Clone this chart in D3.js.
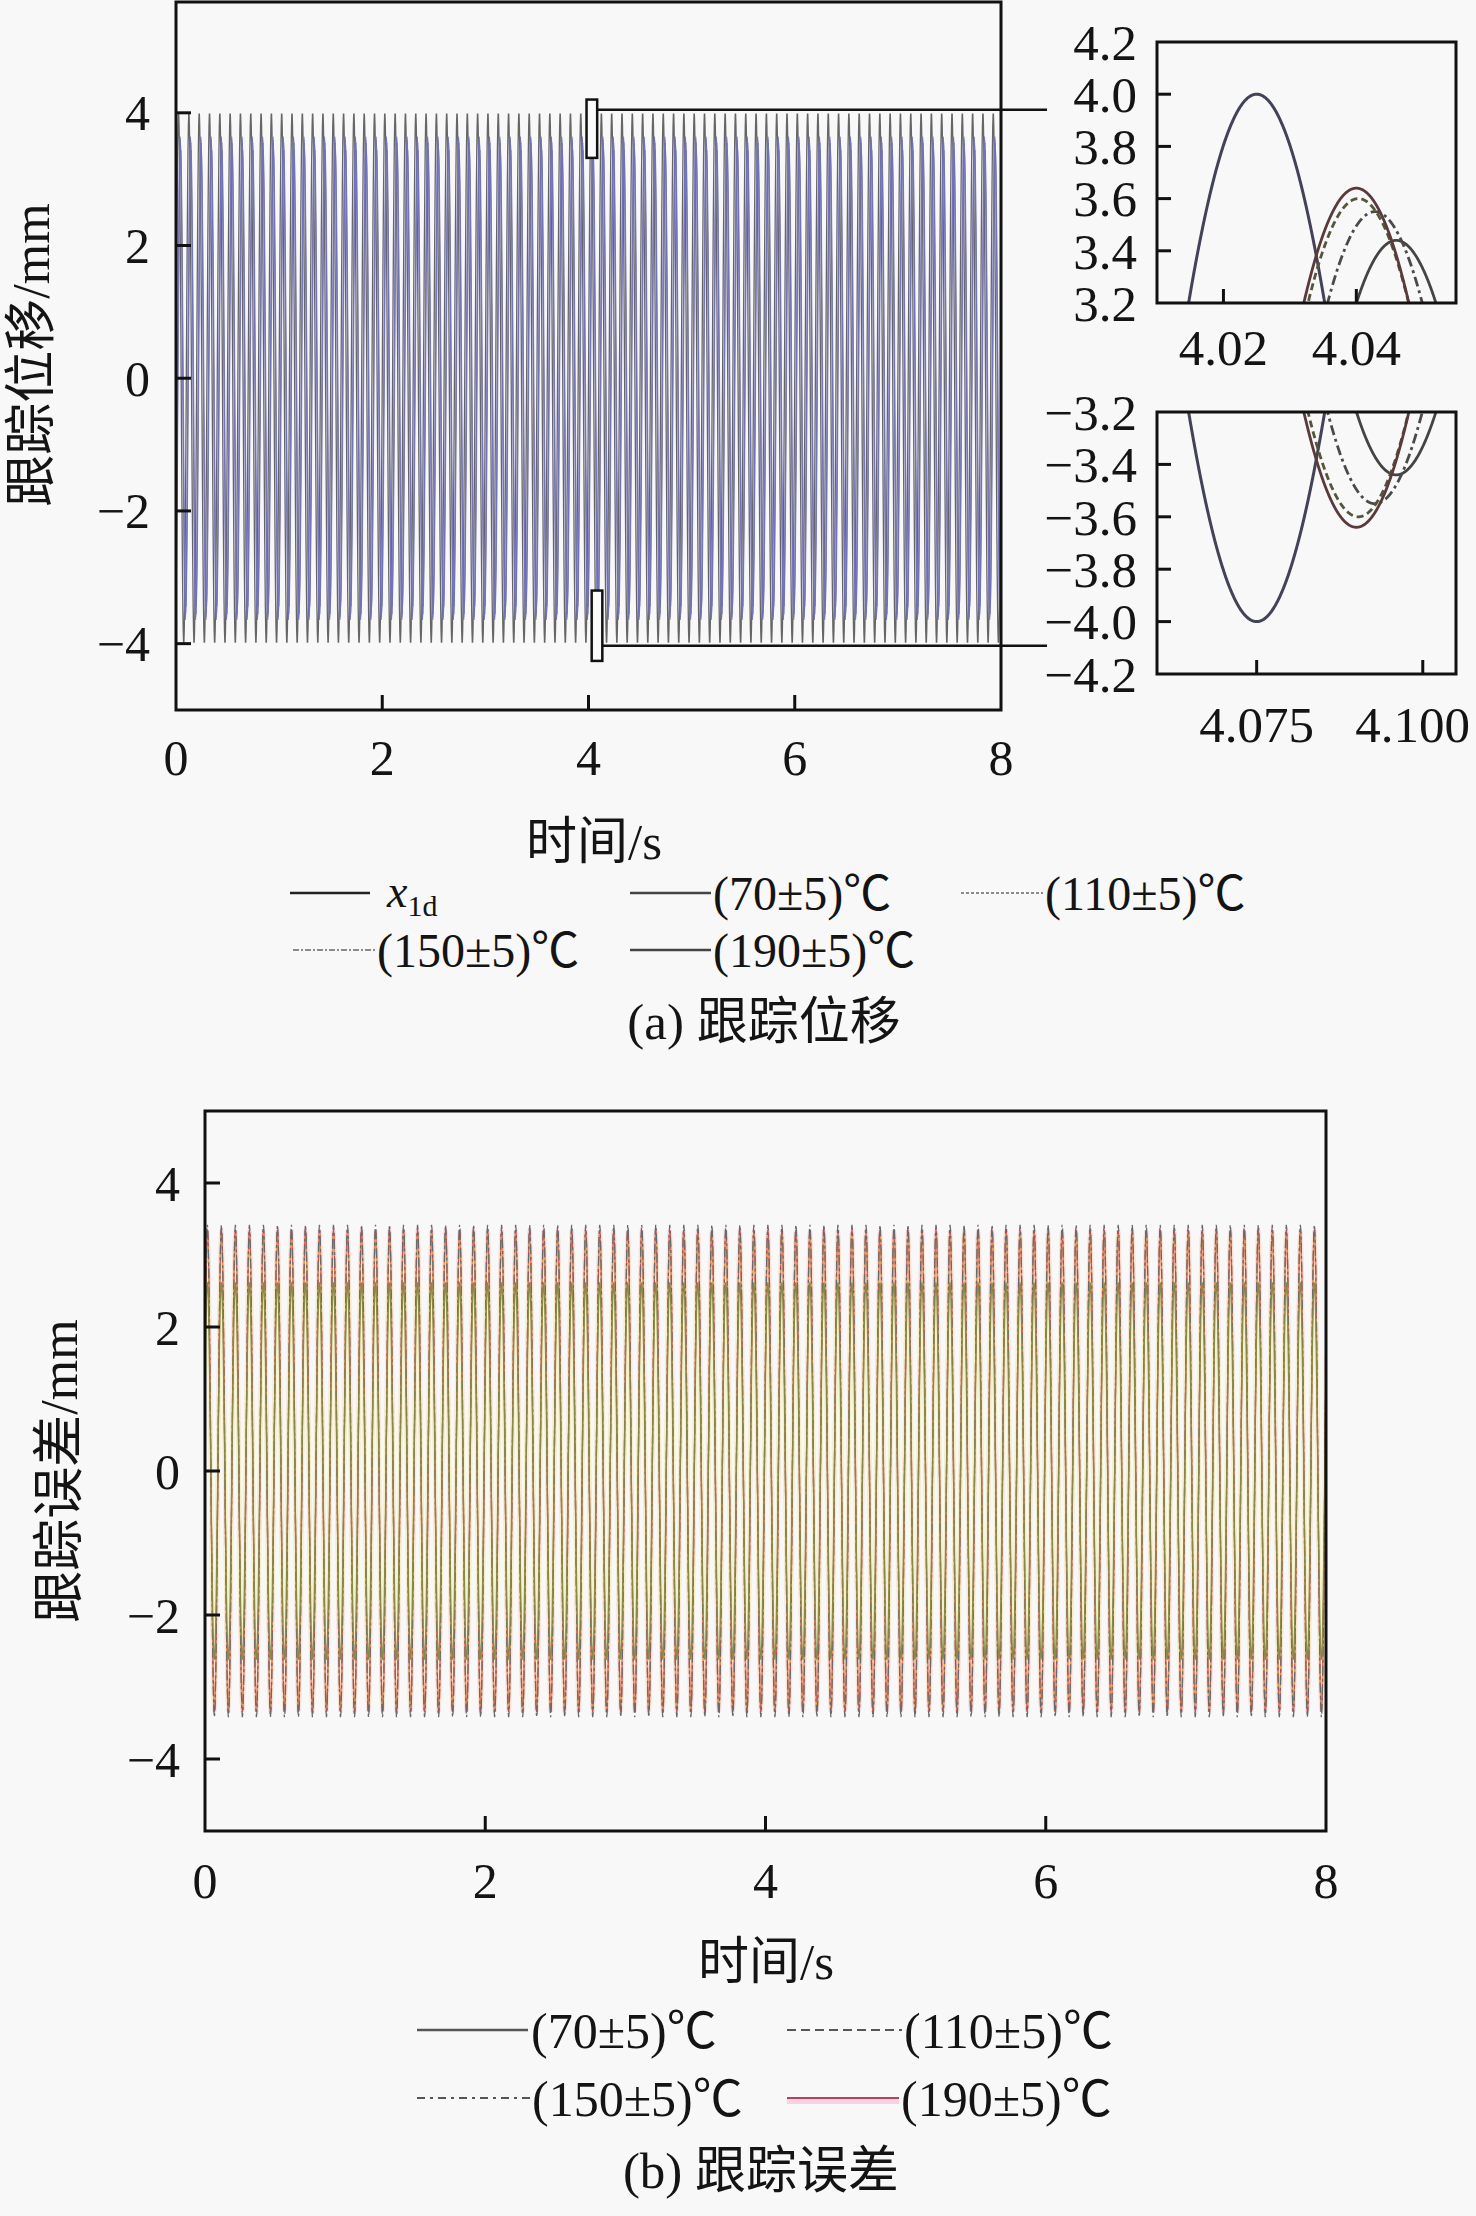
<!DOCTYPE html>
<html><head><meta charset="utf-8">
<script src="https://cdn.jsdelivr.net/npm/d3@7"></script>
<style>
html,body{margin:0;padding:0;background:#f8f8f8;}
svg{display:block;}
text{font-family:"Liberation Serif","Times New Roman","Noto Sans CJK SC",serif;fill:#141414;}
</style></head><body>
<svg id="chart" width="1476" height="2216"></svg>
<script>
// ---------------- data ----------------
const freqHz = 10;                 // reference sine frequency (Hz)
const refAmp = 4;                  // amplitude of x1d (mm)
const timeSpan = [0, 8];           // s
const seriesNames = ["(70±5)℃", "(110±5)℃", "(150±5)℃", "(190±5)℃"];
// tracking displacement: amplitude (mm) and time lag (s)
const trackAmp = [3.64, 3.60, 3.55, 3.44];
const trackLag = [0.0150, 0.0153, 0.0178, 0.0210];
// tracking error: amplitude (mm) and time lead (s)
const errAmp  = [2.62, 3.30, 3.42, 3.35];
const errLead = [0.0085, 0.0082, 0.0080, 0.0078];
// ticks
const xTicks = [0, 2, 4, 6, 8];
const yTicksA = [-4, -2, 0, 2, 4];
const yTicksB = [-4, -2, 0, 2, 4];
const inset1X = [4.010, 4.055], inset1Y = [3.2, 4.2];
const inset2X = [4.060, 4.105], inset2Y = [-4.2, -3.2];
const inset1XTicks = [4.02, 4.04];
const inset1YTicks = [3.2, 3.4, 3.6, 3.8, 4.0, 4.2];
const inset2XTicks = [4.075, 4.100];
const inset2YTicks = [-4.2, -4.0, -3.8, -3.6, -3.4, -3.2];

// ---------------- helpers ----------------
const W = 1476, H = 2216;
const svg = d3.select("#chart");
svg.append("rect").attr("width", W).attr("height", H).attr("fill", "#f8f8f8");
const defs = svg.append("defs");
const fmtMinus = s => String(s).replace("-", "\u2212");

function sine(amp, shift, t0, t1, perCycle) {
  const n = Math.ceil((t1 - t0) * freqHz * perCycle);
  return d3.range(n + 1).map(i => {
    const t = t0 + (t1 - t0) * i / n;
    return [t, amp * Math.sin(2 * Math.PI * freqHz * (t - shift))];
  });
}
function clip(id, x, y, w, h) {
  defs.append("clipPath").attr("id", id).append("rect")
    .attr("x", x).attr("y", y).attr("width", w).attr("height", h);
}
function frame(g, box) {
  g.append("rect").attr("x", box.x0).attr("y", box.y0)
    .attr("width", box.x1 - box.x0).attr("height", box.y1 - box.y0)
    .attr("fill", "none").attr("stroke", "#111").attr("stroke-width", 3);
}
function ticks(g, x, y, box, xt, yt, xfmt, yfmt, fs, xLabY, yLabX, len) {
  xt.forEach(v => {
    const px = x(v);
    if (px > box.x0 + 2 && px < box.x1 - 2)
      g.append("line").attr("x1", px).attr("x2", px).attr("y1", box.y1).attr("y2", box.y1 - len)
        .attr("stroke", "#111").attr("stroke-width", 3);
    const t = g.append("text").attr("x", px).attr("y", xLabY).attr("text-anchor", "middle")
      .attr("dy", "0.35em").attr("font-size", fs).text(xfmt(v));
    const bb = t.node().getBBox();
    if (bb.x + bb.width > W - 6) t.attr("x", px - (bb.x + bb.width - (W - 6)));
  });
  yt.forEach(v => {
    const py = y(v);
    if (py > box.y0 + 2 && py < box.y1 - 2)
      g.append("line").attr("x1", box.x0).attr("x2", box.x0 + len).attr("y1", py).attr("y2", py)
        .attr("stroke", "#111").attr("stroke-width", 3);
    g.append("text").attr("x", yLabX).attr("y", py).attr("text-anchor", "end")
      .attr("dy", "0.35em").attr("font-size", fs).text(yfmt(v));
  });
}
function legendLine(g, x1, x2, y, color, dash, w) {
  g.append("line").attr("x1", x1).attr("x2", x2).attr("y1", y).attr("y2", y)
    .attr("stroke", color).attr("stroke-width", w || 2.2)
    .attr("stroke-dasharray", dash || null);
}
function legendText(g, x, y, txt, fs) {
  g.append("text").attr("x", x).attr("y", y).attr("dy", "0.35em").attr("font-size", fs).text(txt);
}

const insetDashes = [null, "7,4", "10,4,3,4", null];
const insetColors = ["#5a3a3a", "#55553a", "#4a4a4a", "#444444"];

// ---------------- panel (a) ----------------
const A = {x0: 176, x1: 1001, y0: 2, y1: 710};
const xA = d3.scaleLinear().domain(timeSpan).range([A.x0, A.x1]);
const yA = d3.scaleLinear().domain([-5, 5.67]).range([A.y1, A.y0]);
clip("clipA", A.x0, A.y0, A.x1 - A.x0, A.y1 - A.y0);
const gA = svg.append("g");
const lineA = d3.line().x(d => xA(d[0])).y(d => yA(d[1]));
const plotA = gA.append("g").attr("clip-path", "url(#clipA)");
plotA.append("path").attr("d", lineA(sine(refAmp, 0, 0, 8, 30)))
  .attr("fill", "none").attr("stroke", "#666").attr("stroke-width", 1.3);
trackAmp.forEach((a, i) => {
  plotA.append("path").attr("d", lineA(sine(a, trackLag[i], 0, 8, 30)))
    .attr("fill", "none").attr("stroke", "#7070b6").attr("stroke-width", 0.95).attr("opacity", 0.8);
});
frame(gA, A);
ticks(gA, xA, yA, A, xTicks, yTicksA, d => d, fmtMinus, 50, 757, 150, 15);

// zoom rectangles and connectors
const rect1 = {x0: xA(inset1X[0]) - 3, x1: xA(inset1X[1]) + 3, y0: yA(inset1Y[1]), y1: yA(inset1Y[0]) - 8};
const rect2 = {x0: xA(inset2X[0]) - 3, x1: xA(inset2X[1]) + 3, y0: yA(inset2Y[1]), y1: yA(inset2Y[0]) + 4};
[rect1, rect2].forEach(r => {
  gA.append("rect").attr("x", r.x0).attr("y", r.y0).attr("width", r.x1 - r.x0).attr("height", r.y1 - r.y0)
    .attr("fill", "#fafafa").attr("stroke", "#111").attr("stroke-width", 2.5);
});
gA.append("line").attr("x1", rect1.x1).attr("x2", 1047).attr("y1", yA(4.0) - 3).attr("y2", yA(4.0) - 3)
  .attr("stroke", "#111").attr("stroke-width", 2.5);
gA.append("line").attr("x1", rect2.x1).attr("x2", 1047).attr("y1", yA(-4.0) + 2).attr("y2", yA(-4.0) + 2)
  .attr("stroke", "#111").attr("stroke-width", 2.5);

// insets
function inset(id, box, xd, yd, xt, yt, xfmt, yfmt, xLabY) {
  const x = d3.scaleLinear().domain(xd).range([box.x0, box.x1]);
  const y = d3.scaleLinear().domain(yd).range([box.y1, box.y0]);
  clip(id, box.x0, box.y0, box.x1 - box.x0, box.y1 - box.y0);
  const g = svg.append("g");
  const pg = g.append("g").attr("clip-path", "url(#" + id + ")");
  const ln = d3.line().x(d => x(d[0])).y(d => y(d[1]));
  pg.append("path").attr("d", ln(sine(refAmp, 0, xd[0], xd[1], 2000)))
    .attr("fill", "none").attr("stroke", "#424258").attr("stroke-width", 3);
  [3, 2, 1, 0].forEach(i => {
    pg.append("path").attr("d", ln(sine(trackAmp[i], trackLag[i], xd[0], xd[1], 2000)))
      .attr("fill", "none").attr("stroke", insetColors[i]).attr("stroke-width", 2.8)
      .attr("stroke-dasharray", insetDashes[i]);
  });
  frame(g, box);
  ticks(g, x, y, box, xt, yt, xfmt, yfmt, 51, xLabY, 1137, 14);
}
inset("clipI1", {x0: 1157, x1: 1456, y0: 42, y1: 303}, inset1X, inset1Y, inset1XTicks, inset1YTicks,
      d => d3.format(".2f")(d), d => d3.format(".1f")(d), 347);
inset("clipI2", {x0: 1157, x1: 1456, y0: 412, y1: 674}, inset2X, inset2Y, inset2XTicks, inset2YTicks,
      d => d3.format(".3f")(d), d => fmtMinus(d3.format(".1f")(d)), 724);

// axis titles (a)
svg.append("text").attr("transform", "translate(31,355) rotate(-90)").attr("text-anchor", "middle")
  .attr("dy", "0.35em").attr("font-size", 52).text("跟踪位移/mm");
svg.append("text").attr("x", 594).attr("y", 841).attr("text-anchor", "middle").attr("dy", "0.35em")
  .attr("font-size", 51).text("时间/s");

// legend (a)
const LF = 48;
const legA = svg.append("g");
legendLine(legA, 290, 370, 893, "#222", null, 2.4);
const t1d = legA.append("text").attr("x", 387).attr("y", 891).attr("dy", "0.35em").attr("font-size", 46);
t1d.append("tspan").attr("font-style", "italic").text("x");
t1d.append("tspan").attr("font-size", 30).attr("dy", 9).text("1d");
legendLine(legA, 630, 711, 893, "#444", null, 2.4);
legendText(legA, 713, 893, seriesNames[0], LF);
legendLine(legA, 961, 1043, 893, "#666", "3,2", 1.6);
legendText(legA, 1045, 893, seriesNames[1], LF);
legendLine(legA, 293, 375, 950, "#666", "6,2,2,2", 1.6);
legendText(legA, 377, 950, seriesNames[2], LF);
legendLine(legA, 630, 711, 950, "#444", null, 2.4);
legendText(legA, 713, 950, seriesNames[3], LF);
svg.append("text").attr("x", 764).attr("y", 1021).attr("text-anchor", "middle").attr("dy", "0.35em")
  .attr("font-size", 51).text("(a) 跟踪位移");

// ---------------- panel (b) ----------------
const B = {x0: 205, x1: 1326, y0: 1111, y1: 1831};
const xB = d3.scaleLinear().domain(timeSpan).range([B.x0, B.x1]);
const yB = d3.scaleLinear().domain([-5, 5]).range([B.y1, B.y0]);
clip("clipB", B.x0, B.y0, B.x1 - B.x0, B.y1 - B.y0);
const gB = svg.append("g");
const plotB = gB.append("g").attr("clip-path", "url(#clipB)");
const lineB = d3.line().x(d => xB(d[0])).y(d => yB(d[1]));
const errColor = ["#8a8a48", "#e59a5c", "#6a6a6a", "#e0444a"];
const errUnder = ["#f3f3c8", "#fde3c8", null, "#f9d6e2"];
const errDash = [null, "8,3", "10,3,3,3", null];
const drawOrder = [3, 1, 2, 0];
const errPaths = errAmp.map((a, i) => lineB(sine(a, -errLead[i], 0, 8, 30)));
drawOrder.forEach(i => {
  if (errUnder[i]) plotB.append("path").attr("d", errPaths[i]).attr("fill", "none")
    .attr("stroke", errUnder[i]).attr("stroke-width", 4).attr("opacity", 0.8);
});
drawOrder.forEach(i => {
  plotB.append("path").attr("d", errPaths[i]).attr("fill", "none")
    .attr("stroke", errColor[i]).attr("stroke-width", 1.3)
    .attr("stroke-dasharray", errDash[i]);
});
frame(gB, B);
ticks(gB, xB, yB, B, xTicks, yTicksB, d => d, fmtMinus, 50, 1880, 180, 15);
svg.append("text").attr("transform", "translate(59,1471) rotate(-90)").attr("text-anchor", "middle")
  .attr("dy", "0.35em").attr("font-size", 52).text("跟踪误差/mm");
svg.append("text").attr("x", 766).attr("y", 1961).attr("text-anchor", "middle").attr("dy", "0.35em")
  .attr("font-size", 51).text("时间/s");

// legend (b)
const legB = svg.append("g");
legendLine(legB, 417, 528, 2030, "#555", null, 2.6);
legendText(legB, 531, 2030, seriesNames[0], 50);
legendLine(legB, 787, 902, 2030, "#555", "9,5", 2.2);
legendText(legB, 904, 2030, seriesNames[1], 50);
legendLine(legB, 417, 530, 2098, "#555", "8,5,3,5", 2.2);
legendText(legB, 532, 2098, seriesNames[2], 50);
legB.append("line").attr("x1", 787).attr("x2", 899).attr("y1", 2101).attr("y2", 2101)
  .attr("stroke", "#f7d3e2").attr("stroke-width", 6);
legendLine(legB, 787, 899, 2098, "#b8405c", null, 2.2);
legendText(legB, 901, 2098, seriesNames[3], 50);
svg.append("text").attr("x", 761).attr("y", 2170).attr("text-anchor", "middle").attr("dy", "0.35em")
  .attr("font-size", 51).text("(b) 跟踪误差");
</script>
</body></html>
